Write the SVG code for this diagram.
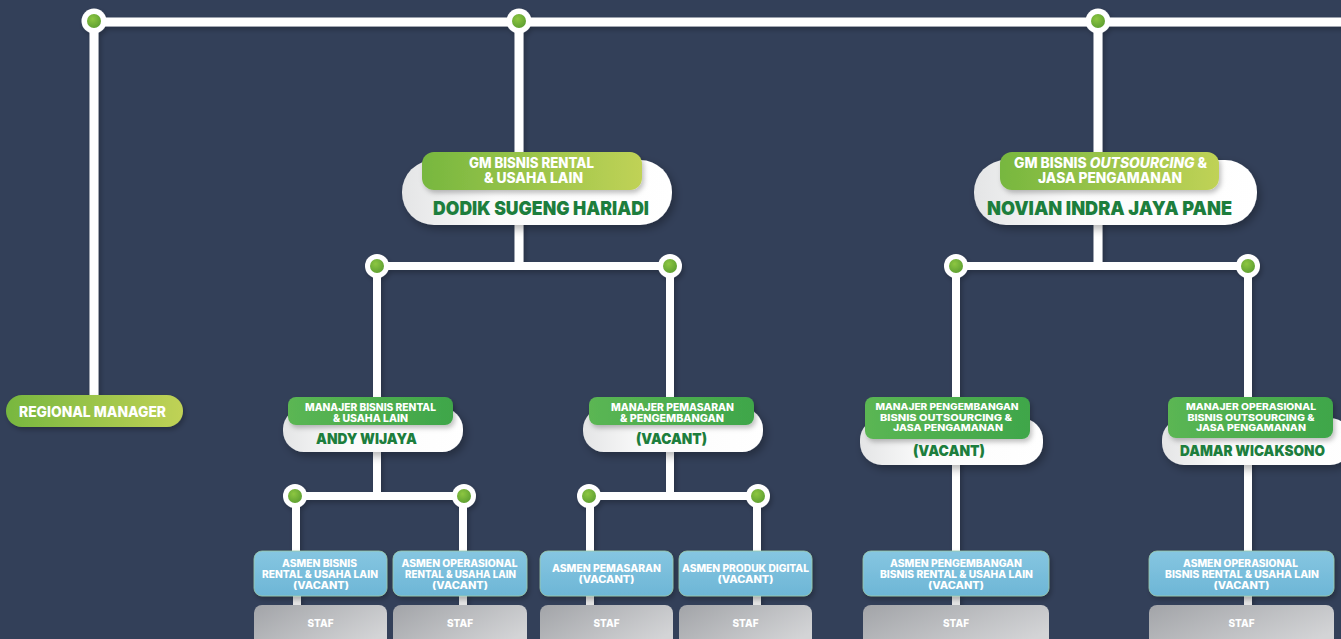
<svg xmlns="http://www.w3.org/2000/svg" width="1341" height="639" viewBox="0 0 1341 639">
  <defs>
    <linearGradient id="gLime" x1="0" y1="0" x2="1" y2="0">
      <stop offset="0" stop-color="#77b73f"/>
      <stop offset="1" stop-color="#c0d256"/>
    </linearGradient>
    <linearGradient id="gGreen" x1="0" y1="0" x2="1" y2="0">
      <stop offset="0" stop-color="#5bb653"/>
      <stop offset="1" stop-color="#3fa64a"/>
    </linearGradient>
    <linearGradient id="gWhite" x1="0" y1="0" x2="1" y2="0">
      <stop offset="0" stop-color="#e4e5e6"/>
      <stop offset="0.35" stop-color="#fbfbfb"/>
      <stop offset="1" stop-color="#ffffff"/>
    </linearGradient>
    <linearGradient id="gBlue" x1="0" y1="0" x2="0" y2="1">
      <stop offset="0" stop-color="#86c6e1"/>
      <stop offset="1" stop-color="#6db6d6"/>
    </linearGradient>
    <linearGradient id="gGray" x1="0" y1="0" x2="1" y2="0.6">
      <stop offset="0" stop-color="#a2a4a8"/>
      <stop offset="1" stop-color="#d3d4d6"/>
    </linearGradient>
    <radialGradient id="gDot" cx="0.4" cy="0.35" r="0.7">
      <stop offset="0" stop-color="#8dc641"/>
      <stop offset="1" stop-color="#5d9f31"/>
    </radialGradient>
    <filter id="shadow" x="-20%" y="-30%" width="140%" height="170%">
      <feDropShadow dx="3" dy="4" stdDeviation="4" flood-color="#000" flood-opacity="0.3"/>
    </filter>
    <filter id="softShadow" x="-20%" y="-30%" width="140%" height="170%">
      <feDropShadow dx="2" dy="3" stdDeviation="2.5" flood-color="#000" flood-opacity="0.25"/>
    </filter>
  </defs>
  <style>
    .wire { stroke: #ffffff; stroke-width: 9; fill: none; stroke-linecap: butt; }
    .wire2 { stroke: #ffffff; stroke-width: 8; fill: none; }
    .stub { stroke: #e4e4e4; stroke-width: 8; fill: none; }
    .dotO { fill: #ffffff; }
    .dotI { fill: url(#gDot); }
    text { font-family: Inter, "Noto Sans", "Liberation Sans", sans-serif; text-anchor: middle; }
    .t-w { fill: #ffffff; font-weight: 800; }
    .name { fill: #1d7e3d; font-weight: 900; }
    .lime { fill: url(#gLime); }
    .green { fill: url(#gGreen); }
    .white { fill: url(#gWhite); }
    .blue { fill: url(#gBlue); stroke: #9cc9a8; stroke-width: 0.8; }
    .gray { fill: url(#gGray); }
  </style>

  <rect width="1341" height="639" fill="#334059"/>

  <!-- connectors -->
  <g id="connectors" filter="url(#softShadow)">
    <path class="wire" d="M94 22 H1345 M94 22 V400 M519 22 V266 M1098 22 V266"/>
    <path class="wire2" d="M377 266 H670 M377 266 V410 M670 266 V410 M956 266 H1248 M956 266 V552 M1248 266 V552"/>
    <path class="wire2" d="M377 450 V496 M295 496 H464 M296 496 V552 M463 496 V552 M670 450 V496 M589 496 H758 M590 496 V552 M757 496 V552"/>
    <path class="stub" d="M297 595 V607 M463 595 V607 M590 595 V607 M757 595 V607 M956 595 V607 M1248 595 V607"/>
    <g>
      <circle class="dotO" cx="94" cy="21" r="12.5"/><circle class="dotI" cx="94" cy="21" r="7"/>
      <circle class="dotO" cx="519" cy="21" r="12.5"/><circle class="dotI" cx="519" cy="21" r="7"/>
      <circle class="dotO" cx="1098" cy="21" r="12.5"/><circle class="dotI" cx="1098" cy="21" r="7"/>
      <circle class="dotO" cx="377" cy="266" r="12"/><circle class="dotI" cx="377" cy="266" r="7"/>
      <circle class="dotO" cx="670" cy="266" r="12"/><circle class="dotI" cx="670" cy="266" r="7"/>
      <circle class="dotO" cx="956" cy="266" r="12"/><circle class="dotI" cx="956" cy="266" r="7"/>
      <circle class="dotO" cx="1248" cy="266" r="12"/><circle class="dotI" cx="1248" cy="266" r="7"/>
      <circle class="dotO" cx="295" cy="496" r="12"/><circle class="dotI" cx="295" cy="496" r="7"/>
      <circle class="dotO" cx="464" cy="496" r="12"/><circle class="dotI" cx="464" cy="496" r="7"/>
      <circle class="dotO" cx="589" cy="496" r="12"/><circle class="dotI" cx="589" cy="496" r="7"/>
      <circle class="dotO" cx="758" cy="496" r="12"/><circle class="dotI" cx="758" cy="496" r="7"/>
    </g>
  </g>

  <!-- regional manager -->
  <g id="regional-manager">
    <rect class="lime" x="6" y="395" width="177" height="32" rx="16" filter="url(#softShadow)"/>
    <text class="t-w" x="92.5" y="417" font-size="15" textLength="147" lengthAdjust="spacingAndGlyphs">REGIONAL MANAGER</text>
  </g>

  <!-- general managers -->
  <g id="gm-rental">
    <rect class="white" x="402" y="160" width="270" height="65" rx="32" filter="url(#shadow)"/>
    <rect class="lime" x="422" y="152" width="220" height="38" rx="12" filter="url(#softShadow)"/>
    <text class="t-w" x="531.5" y="168" font-size="14" textLength="125" lengthAdjust="spacingAndGlyphs">GM BISNIS RENTAL</text>
    <text class="t-w" x="533.5" y="183" font-size="14" textLength="99" lengthAdjust="spacingAndGlyphs">&amp; USAHA LAIN</text>
    <text class="name" x="541" y="215" font-size="19" textLength="216" lengthAdjust="spacingAndGlyphs">DODIK SUGENG HARIADI</text>
  </g>

  <g id="gm-outsourcing">
    <rect class="white" x="974" y="160" width="283" height="65" rx="32" filter="url(#shadow)"/>
    <rect class="lime" x="1000" y="152" width="219" height="38" rx="12" filter="url(#softShadow)"/>
    <text class="t-w" x="1110.5" y="168" font-size="14" textLength="193" lengthAdjust="spacingAndGlyphs">GM BISNIS <tspan font-style="italic">OUTSOURCING</tspan> &amp;</text>
    <text class="t-w" x="1110" y="183" font-size="14" textLength="144" lengthAdjust="spacingAndGlyphs">JASA PENGAMANAN</text>
    <text class="name" x="1109.5" y="215" font-size="19" textLength="245" lengthAdjust="spacingAndGlyphs">NOVIAN INDRA JAYA PANE</text>
  </g>

  <!-- managers -->
  <g id="mgr-bisnis-rental">
    <rect class="white" x="283" y="408" width="180" height="44" rx="21" filter="url(#shadow)"/>
    <rect class="green" x="288" y="397" width="165" height="28" rx="8" filter="url(#softShadow)"/>
    <text class="t-w" x="370.5" y="411" font-size="10" textLength="131" lengthAdjust="spacingAndGlyphs">MANAJER BISNIS RENTAL</text>
    <text class="t-w" x="370.5" y="422" font-size="10" textLength="75" lengthAdjust="spacingAndGlyphs">&amp; USAHA LAIN</text>
    <text class="name" x="366.5" y="444" font-size="15" textLength="101" lengthAdjust="spacingAndGlyphs">ANDY WIJAYA</text>
  </g>

  <g id="mgr-pemasaran">
    <rect class="white" x="583" y="408" width="180" height="44" rx="21" filter="url(#shadow)"/>
    <rect class="green" x="589" y="397" width="165" height="28" rx="8" filter="url(#softShadow)"/>
    <text class="t-w" x="672.5" y="411" font-size="10" textLength="123" lengthAdjust="spacingAndGlyphs">MANAJER PEMASARAN</text>
    <text class="t-w" x="672" y="422" font-size="10" textLength="104" lengthAdjust="spacingAndGlyphs">&amp; PENGEMBANGAN</text>
    <text class="name" x="671.5" y="444" font-size="15" textLength="71" lengthAdjust="spacingAndGlyphs">(VACANT)</text>
  </g>

  <g id="mgr-pengembangan-outsourcing">
    <rect class="white" x="860" y="418" width="183" height="47" rx="22" filter="url(#shadow)"/>
    <rect class="green" x="865" y="397" width="165" height="42" rx="8" filter="url(#softShadow)"/>
    <text class="t-w" x="947" y="410" font-size="9.5" textLength="143" lengthAdjust="spacingAndGlyphs">MANAJER PENGEMBANGAN</text>
    <text class="t-w" x="946" y="420.5" font-size="9.5" textLength="132" lengthAdjust="spacingAndGlyphs">BISNIS OUTSOURCING &amp;</text>
    <text class="t-w" x="948" y="431" font-size="9.5" textLength="110" lengthAdjust="spacingAndGlyphs">JASA PENGAMANAN</text>
    <text class="name" x="949" y="456" font-size="15" textLength="72" lengthAdjust="spacingAndGlyphs">(VACANT)</text>
  </g>

  <g id="mgr-operasional-outsourcing">
    <rect class="white" x="1162" y="418" width="190" height="47" rx="22" filter="url(#shadow)"/>
    <rect class="green" x="1168" y="397" width="165" height="41" rx="8" filter="url(#softShadow)"/>
    <text class="t-w" x="1251" y="410" font-size="9.5" textLength="130" lengthAdjust="spacingAndGlyphs">MANAJER OPERASIONAL</text>
    <text class="t-w" x="1251" y="420.5" font-size="9.5" textLength="127" lengthAdjust="spacingAndGlyphs">BISNIS OUTSOURCING &amp;</text>
    <text class="t-w" x="1251" y="431" font-size="9.5" textLength="110" lengthAdjust="spacingAndGlyphs">JASA PENGAMANAN</text>
    <text class="name" x="1252.5" y="456" font-size="15" textLength="145" lengthAdjust="spacingAndGlyphs">DAMAR WICAKSONO</text>
  </g>

  <!-- assistant managers -->
  <g id="asmen-bisnis-rental">
    <rect class="blue" x="254" y="551" width="133" height="45" rx="8" filter="url(#softShadow)"/>
    <text class="t-w" x="319.5" y="567" font-size="10" textLength="75" lengthAdjust="spacingAndGlyphs">ASMEN BISNIS</text>
    <text class="t-w" x="320" y="578" font-size="10" textLength="116" lengthAdjust="spacingAndGlyphs">RENTAL &amp; USAHA LAIN</text>
    <text class="t-w" x="321" y="589" font-size="10" textLength="56" lengthAdjust="spacingAndGlyphs">(VACANT)</text>
  </g>
  <g id="asmen-operasional-rental">
    <rect class="blue" x="393" y="551" width="134" height="45" rx="8" filter="url(#softShadow)"/>
    <text class="t-w" x="459.5" y="567" font-size="10" textLength="116" lengthAdjust="spacingAndGlyphs">ASMEN OPERASIONAL</text>
    <text class="t-w" x="460.5" y="578" font-size="10" textLength="111" lengthAdjust="spacingAndGlyphs">RENTAL &amp; USAHA LAIN</text>
    <text class="t-w" x="460" y="589" font-size="10" textLength="56" lengthAdjust="spacingAndGlyphs">(VACANT)</text>
  </g>
  <g id="asmen-pemasaran">
    <rect class="blue" x="540" y="551" width="133" height="45" rx="8" filter="url(#softShadow)"/>
    <text class="t-w" x="606.5" y="572" font-size="10" textLength="109" lengthAdjust="spacingAndGlyphs">ASMEN PEMASARAN</text>
    <text class="t-w" x="606.5" y="583" font-size="10" textLength="56" lengthAdjust="spacingAndGlyphs">(VACANT)</text>
  </g>
  <g id="asmen-produk-digital">
    <rect class="blue" x="679" y="551" width="133" height="45" rx="8" filter="url(#softShadow)"/>
    <text class="t-w" x="745.5" y="572" font-size="10" textLength="127" lengthAdjust="spacingAndGlyphs">ASMEN PRODUK DIGITAL</text>
    <text class="t-w" x="745.5" y="583" font-size="10" textLength="56" lengthAdjust="spacingAndGlyphs">(VACANT)</text>
  </g>
  <g id="asmen-pengembangan">
    <rect class="blue" x="863" y="551" width="186" height="45" rx="8" filter="url(#softShadow)"/>
    <text class="t-w" x="956" y="567" font-size="10" textLength="132" lengthAdjust="spacingAndGlyphs">ASMEN PENGEMBANGAN</text>
    <text class="t-w" x="956.5" y="578" font-size="10" textLength="153" lengthAdjust="spacingAndGlyphs">BISNIS RENTAL &amp; USAHA LAIN</text>
    <text class="t-w" x="956" y="589" font-size="10" textLength="56" lengthAdjust="spacingAndGlyphs">(VACANT)</text>
  </g>
  <g id="asmen-operasional">
    <rect class="blue" x="1149" y="551" width="185" height="45" rx="8" filter="url(#softShadow)"/>
    <text class="t-w" x="1240.5" y="567" font-size="10" textLength="115" lengthAdjust="spacingAndGlyphs">ASMEN OPERASIONAL</text>
    <text class="t-w" x="1242" y="578" font-size="10" textLength="154" lengthAdjust="spacingAndGlyphs">BISNIS RENTAL &amp; USAHA LAIN</text>
    <text class="t-w" x="1241.5" y="589" font-size="10" textLength="56" lengthAdjust="spacingAndGlyphs">(VACANT)</text>
  </g>

  <!-- staff -->
  <g id="staf-1"><rect class="gray" x="254" y="605" width="133" height="45" rx="8"/><text class="t-w" x="320.5" y="627" font-size="10.5" textLength="26" lengthAdjust="spacingAndGlyphs">STAF</text></g>
  <g id="staf-2"><rect class="gray" x="393" y="605" width="134" height="45" rx="8"/><text class="t-w" x="460" y="627" font-size="10.5" textLength="26" lengthAdjust="spacingAndGlyphs">STAF</text></g>
  <g id="staf-3"><rect class="gray" x="540" y="605" width="133" height="45" rx="8"/><text class="t-w" x="606.5" y="627" font-size="10.5" textLength="26" lengthAdjust="spacingAndGlyphs">STAF</text></g>
  <g id="staf-4"><rect class="gray" x="679" y="605" width="133" height="45" rx="8"/><text class="t-w" x="745.5" y="627" font-size="10.5" textLength="26" lengthAdjust="spacingAndGlyphs">STAF</text></g>
  <g id="staf-5"><rect class="gray" x="863" y="605" width="186" height="45" rx="8"/><text class="t-w" x="956" y="627" font-size="10.5" textLength="26" lengthAdjust="spacingAndGlyphs">STAF</text></g>
  <g id="staf-6"><rect class="gray" x="1149" y="605" width="185" height="45" rx="8"/><text class="t-w" x="1241.5" y="627" font-size="10.5" textLength="26" lengthAdjust="spacingAndGlyphs">STAF</text></g>
</svg>
